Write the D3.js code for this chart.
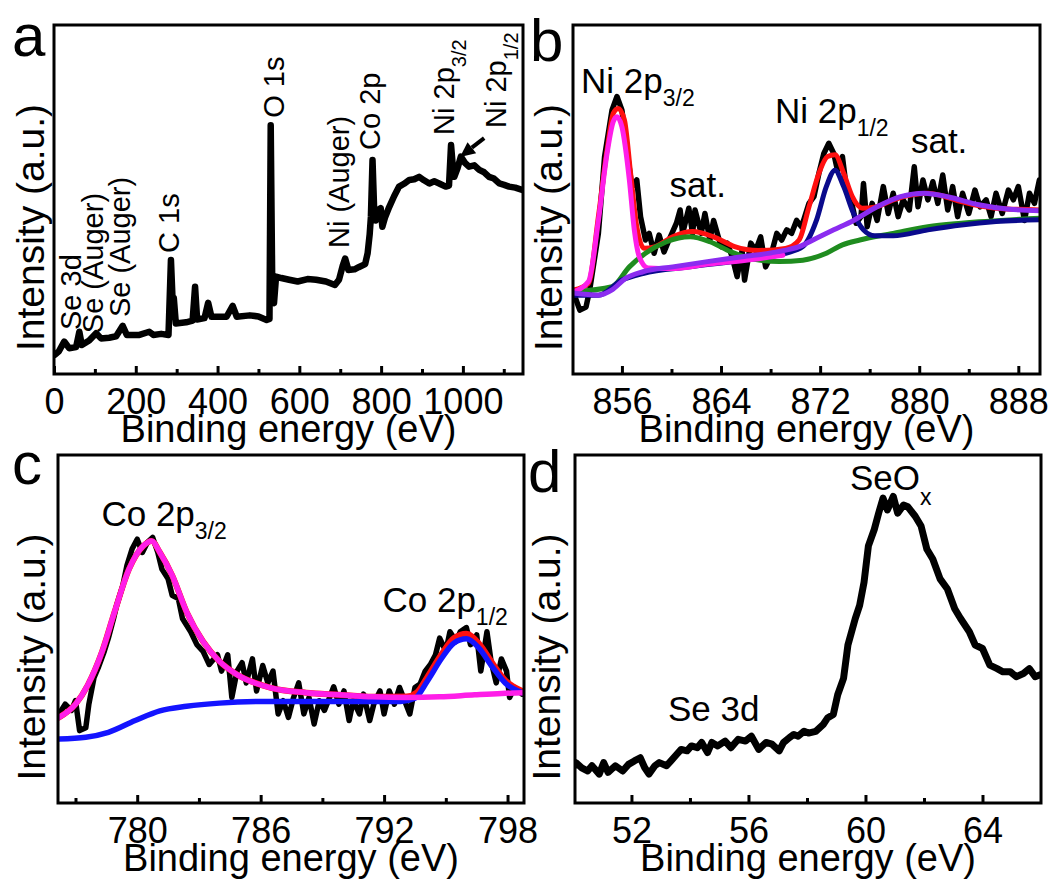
<!DOCTYPE html>
<html>
<head>
<meta charset="utf-8">
<script src="https://cdn.jsdelivr.net/npm/d3@7"></script>
<style>
  body { margin: 0; background: #fff; }
  svg { display: block; font-family: "Liberation Sans", Arial, sans-serif; }
</style>
</head>
<body>
<div id="chart"></div>
<script>
// ---- data (binding energy in eV, intensity in arbitrary units 0-100) ----

// a: survey spectrum
const surveyData = [
  [2,5.5],[12,6.5],[25,9.3],[37,7.4],[54,7.7],[62,12.1],[68,8.3],[86,9.6],[103,11.7],[115,10.2],
  [135,10.4],[152,10.8],[168,13.8],[178,11.2],[209,11.2],[233,12.1],[243,11.2],[262,11.5],[280,11.2],
  [286,32.7],[290,21.2],[293,21.8],[298,14.5],[323,14.8],[339,15.3],[345,25],[350,15.6],[368,16],
  [377,20.4],[385,16.4],[422,16.4],[437,19.5],[447,16.4],[479,16.8],[500,16.5],[520,15.5],[527,15.8],
  [530,71.3],[534,22],[538,20.3],[543,27.9],[556,27.5],[575,27],[596,26.5],[620,27.2],[641,27],
  [665,26.5],[687,25.5],[697,27],[706,31],[712,33.1],[720,29.8],[735,30],[745,30.6],[761,31.5],
  [767,34.6],[772,40],[775,45],[779,61.3],[783,47],[787,44],[793,47],[799,47.5],[803,42.2],[810,45],
  [820,47.9],[832,51],[844,53.7],[856,54.5],[869,55.6],[881,55.8],[893,56.5],[905,55.5],[918,54.6],
  [930,55.2],[942,54.6],[958,53.7],[966,54],[971,65.6],[975,60],[979,56.5],[987,59],[995,62.3],
  [1005,60.5],[1015,59.4],[1028,59.8],[1040,58.5],[1052,57.8],[1064,56.5],[1076,56],[1089,54.6],
  [1101,54.2],[1113,53.7],[1128,53.4],[1147,52.7]
];

// b: Ni 2p
const ni2pData = [
  [852.2,22.2],[852.6,18.3],[853.1,19.2],[853.4,24.1],[854.1,40.3],[854.6,62.3],[855.2,75.6],[855.6,79.5],
  [856.0,75.6],[856.4,64.2],[856.8,53.7],[857.2,55.6],[857.5,45.1],[857.9,38.4],[858.2,40.3],[858.6,34.6],
  [859.0,39.8],[859.4,35],[859.8,38.4],[860.4,43.2],[860.7,47],[860.9,40.3],[861.4,47.5],[861.7,40.3],
  [861.9,47],[862.4,40.3],[862.7,46],[863.1,38.4],[863.4,44],[864.0,36.5],[864.5,37.5],[864.9,33.6],
  [865.3,27.9],[865.7,35.4],[865.9,26.9],[866.4,37.5],[866.8,35.4],[867.2,39.3],[867.6,30.7],[868.0,33.6],
  [868.5,40.3],[868.9,38.4],[869.3,41.3],[869.7,40.3],[870.1,44],[870.5,42.2],[871.1,48.9],[871.5,50.8],
  [871.9,57.5],[872.3,63.2],[872.7,66.1],[873.1,63.2],[873.4,58.4],[873.8,62.3],[874.1,53.7],[874.5,49.9],
  [874.9,43.2],[875.3,45.1],[875.5,54.6],[875.8,42.2],[876.2,48.9],[876.6,44],[877.1,53.7],[877.5,46],
  [877.9,51.8],[878.3,45.1],[878.7,49.9],[879.2,47],[879.6,59.4],[879.9,47.9],[880.3,55.6],[880.7,49.9],
  [881.1,55.1],[881.5,48.9],[881.9,57],[882.3,47],[882.7,53.7],[883.1,45.1],[883.5,51.8],[884.0,46],
  [884.5,52.7],[884.9,47.9],[885.4,49.9],[885.8,45.1],[886.2,51.8],[886.7,46],[887.2,52.7],[887.6,49.9],
  [888.0,53.7],[888.5,44],[888.9,51.8],[889.3,48.9],[889.7,55.6]
];
const ni2pEnvelope = [
  [852.1,24.1],[853.3,26],[854.1,45.1],[854.8,64.2],[855.3,74.7],[855.7,76.1],[856.2,72.8],[856.7,57.5],
  [857.2,42.2],[857.8,36],[858.7,36.5],[860.1,39.3],[861.7,40.8],[863.4,39.3],[865.1,36.5],[867.0,35.4],
  [869.2,36],[870.3,38.4],[871.1,47.9],[871.9,57.5],[872.6,62.3],[873.2,62.8],[873.9,57.5],[874.6,50.8],
  [875.4,47.5],[876.5,47.9],[877.9,49.9],[879.3,51.3],[880.7,51.8],[882.1,50.8],[883.4,49.4],[886.2,47.5],
  [889.8,47]
];
const ni2p32Fit = [
  [852.1,23.6],[853.3,26.5],[854.1,44],[854.8,63.2],[855.3,72.3],[855.6,73.7],[856.0,70.8],[856.6,55.6],
  [857.0,41.3],[857.4,33.6],[858.1,30.4],[860.0,30.2],[863.0,31.5],[866.0,32.6],[869.0,34]
];
const ni2pSat1Fit = [
  [852.1,23.6],[855.2,25],[856.6,30.7],[857.9,34.6],[859.6,37.9],[861.5,39.3],[863.1,37.9],[864.8,35],
  [866.4,33.1],[868.7,32.2],[870.6,32.6],[872.5,34.6],[873.8,37],[875.2,38.4],[877.9,40.3],[880.7,42.2],
  [883.4,43.2],[889.8,44.6]
];
const ni2p12Fit = [
  [852.1,22.6],[854.1,22.6],[856.0,26.9],[857.7,28.8],[861.5,30.7],[865.7,32.6],[869.2,34.6],[870.6,36.5],
  [871.7,44],[872.5,53.7],[873.2,58.4],[873.9,53.7],[874.7,46],[875.5,41.3],[876.4,39.6],[877.9,39.6],
  [880.7,41.3],[883.4,42.7],[886.2,43.7],[889.8,44.2]
];
const ni2pSat2Fit = [
  [852.1,23.2],[854.1,22.6],[855.2,24.1],[856.3,27.4],[857.7,29.3],[860.1,30.7],[862.9,32.2],[865.7,33.6],
  [868.5,35],[870.3,36.5],[871.7,38.9],[873.1,41.3],[874.7,44],[876.6,47.9],[878.5,50.8],[880.4,51.8],
  [882.3,50.8],[884.8,48.5],[887.3,47.2],[889.8,46.8]
];

// c: Co 2p
const co2pData = [
  [776.2,25.6],[776.5,28.4],[776.8,26.6],[777.0,29.4],[777.2,20.8],[777.5,21.6],[777.65,28.4],[777.9,36],
  [778.1,38.8],[778.4,43.6],[778.6,47.4],[778.85,53],[779.0,56.8],[779.3,62.5],[779.5,68.2],[779.75,73],
  [780.0,75.8],[780.25,72],[780.5,74.9],[780.75,76.3],[781.0,72],[781.2,67.2],[781.5,64.4],[781.7,59.7],
  [782.0,58.7],[782.2,53],[782.6,49.2],[782.9,45.5],[783.2,43.6],[783.5,39.8],[783.9,42.6],[784.1,37.9],
  [784.4,42.6],[784.6,30.3],[784.85,37.9],[785.1,40.3],[785.3,34.5],[785.6,41.4],[785.8,32.2],[786.1,39.5],
  [786.35,34.5],[786.6,37.9],[786.85,25.6],[787.1,29.4],[787.35,24.6],[787.6,30.3],[787.85,34.5],[788.1,25.6],
  [788.35,30.3],[788.6,22.7],[788.85,29.4],[789.1,26.6],[789.35,30.3],[789.55,33.4],[789.8,28.4],[790.05,32.2],
  [790.3,23.7],[790.5,29.4],[790.8,25.6],[791.0,31.3],[791.3,23.7],[791.5,28.4],[791.8,32.2],[792.0,25.6],
  [792.25,32.2],[792.5,28.4],[792.75,33.2],[793.0,29.4],[793.25,25.6],[793.5,33.2],[793.75,34.2],[794.0,37.9],
  [794.25,39.8],[794.5,42.6],[794.7,47.4],[795.0,43.6],[795.2,49.2],[795.5,46.4],[795.7,49.2],[796.0,50.4],
  [796.2,45.5],[796.5,48.3],[796.7,37.9],[797.0,49.2],[797.2,40.7],[797.45,34.5],[797.7,41.4],[797.95,37.9],
  [798.1,30.3],[798.35,33.2],[798.7,31.3]
];
const co2pEnvelope = [
  [776.2,24.6],[777.0,28.4],[777.6,33.9],[778.3,43.6],[778.9,54.9],[779.6,67.2],[780.3,73.9],[780.7,75.3],
  [781.1,72],[781.7,65.4],[782.4,54.9],[783.2,46.4],[784.0,40.7],[784.85,36.9],[786.5,33.1],[788.2,31.7],
  [789.8,31.1],[791.45,30.5],[793.1,30.6],[793.6,31.8],[794.1,36.2],[794.8,42.8],[795.4,47.4],[796.0,48.6],
  [796.6,45.9],[797.25,40.3],[797.9,35.2],[798.8,32]
];
const co2p32Fit = [
  [776.2,24.6],[777.0,28.4],[777.6,33.9],[778.3,43.6],[778.9,54.9],[779.6,67.2],[780.3,73.9],[780.7,75.3],
  [781.1,72],[781.7,65.4],[782.4,54.9],[783.2,46.4],[784.0,40.7],[784.85,36.9],[786.5,33.1],[788.2,31.7],
  [789.8,31.1],[791.45,30.5],[793.1,30.3],[794.7,30.5],[796.4,31.1],[797.7,31.5],[798.8,31.7]
];
const co2p12Fit = [
  [776.2,18.4],[777.5,18.9],[778.6,20.3],[779.9,23.7],[781.1,26.5],[782.4,27.8],[784.0,28.7],[786.5,29.2],
  [789.8,29.2],[792.8,29.2],[793.5,30.1],[794.1,35],[794.8,41.6],[795.4,46],[796.0,47.2],[796.6,44.6],
  [797.25,39.2],[797.9,34.4],[798.8,31.5]
];

// d: Se 3d
const se3dData = [
  [50.0,10.2],[50.1,11.6],[50.3,10.1],[50.5,9.2],[50.65,10.7],[50.9,8.3],[51.05,11.6],[51.2,8.8],[51.45,10.7],
  [51.7,9.2],[51.9,11.1],[52.1,12.1],[52.3,13],[52.45,10.2],[52.6,8.3],[52.8,10.7],[52.95,11.6],[53.2,10.7],
  [53.35,12.1],[53.55,14],[53.7,15.4],[53.9,15],[54.05,16.4],[54.25,15.9],[54.4,17.4],[54.6,14.5],[54.75,17.4],
  [54.95,16.4],[55.2,17.8],[55.4,15.9],[55.65,18.3],[55.9,17.8],[56.1,19.2],[56.35,15.4],[56.6,17.4],[56.8,16.9],
  [57.05,15],[57.2,17.4],[57.4,18.8],[57.55,19.7],[57.7,19.2],[57.9,20.6],[58.05,20.1],[58.3,20.6],[58.55,22.5],
  [58.7,24.4],[58.9,25.4],[59.05,31.1],[59.25,35.8],[59.4,45.4],[59.65,53],[59.8,56.8],[59.95,63.4],[60.1,73.9],
  [60.3,78.6],[60.45,83.3],[60.6,87.6],[60.75,84.2],[60.95,88.1],[61.1,83.3],[61.3,85.6],[61.45,85.1],[61.7,82.4],
  [61.9,79.6],[62.1,72.9],[62.3,70.1],[62.55,64.4],[62.8,61.5],[63.05,55.8],[63.25,53],[63.55,49.2],[63.75,45.4],
  [64.0,44.4],[64.25,39.6],[64.5,38.6],[64.7,37.7],[64.95,37.7],[65.15,36.3],[65.4,37.2],[65.6,38.6],[65.8,36.3],
  [65.95,36.8]
];

// ticks
const surveyTicks = [0, 200, 400, 600, 800, 1000];
const surveyMinor = [100, 300, 500, 700, 900, 1100];
const ni2pTicks = [856, 864, 872, 880, 888];
const ni2pMinor = [860, 868, 876, 884];
const co2pTicks = [780, 786, 792, 798];
const co2pMinor = [777, 783, 789, 795];
const se3dTicks = [52, 56, 60, 64];
const se3dMinor = [54, 58, 62];

// peak labels: energy / intensity of the text anchor
const surveyLabels = [
  {E: 65, v: 12.6, main: "Se 3d"},
  {E: 121, v: 11.7, main: "Se (Auger)"},
  {E: 186, v: 16.3, main: "Se (Auger)"},
  {E: 306, v: 34.7, main: "C 1s"},
  {E: 562, v: 73.4, main: "O 1s"},
  {E: 721, v: 36.1, main: "Ni (Auger)"},
  {E: 797, v: 64.2, main: "Co 2p"},
  {E: 978, v: 68.5, main: "Ni 2p", sub: "3/2"},
  {E: 1105, v: 70.5, main: "Ni 2p", sub: "1/2"}
];
const ni2pLabels = [
  {E: 852.7, v: 80.5, main: "Ni 2p", sub: "3/2"},
  {E: 859.85, v: 50.7, main: "sat."},
  {E: 868.35, v: 71.9, main: "Ni 2p", sub: "1/2"},
  {E: 879.33, v: 63.3, main: "sat."}
];
const co2pLabels = [
  {E: 778.26, v: 79.6, main: "Co 2p", sub: "3/2"},
  {E: 791.92, v: 54.9, main: "Co 2p", sub: "1/2"}
];
const se3dLabels = [
  {E: 59.47, v: 90.0, main: "SeO", sub: "x"},
  {E: 53.25, v: 23.5, main: "Se 3d"}
];

//==============================================================================

const svg = d3.select("#chart").append("svg")
    .attr("width", 1053)
    .attr("height", 883);

function drawPanel(p) {
  const g = svg.append("g");
  const x = d3.scaleLinear().domain(p.xDomain).range([p.left, p.right]);
  const y = d3.scaleLinear().domain([0, 100]).range([p.bottom, p.top]);

  g.append("clipPath").attr("id", "clip-" + p.letter)
    .append("rect")
      .attr("x", p.left).attr("y", p.top)
      .attr("width", p.right - p.left).attr("height", p.bottom - p.top);

  const plot = g.append("g").attr("clip-path", `url(#clip-${p.letter})`);
  const line = d3.line().x(d => x(d[0])).y(d => y(d[1]));

  p.series.forEach(s => {
    plot.append("path")
      .datum(s.data)
      .attr("fill", "none")
      .attr("stroke", s.color)
      .attr("stroke-width", s.width)
      .attr("stroke-linejoin", "round")
      .attr("stroke-linecap", "round")
      .attr("d", line.curve(s.smooth ? d3.curveMonotoneX : d3.curveLinear));
  });

  // minor ticks, then labelled ticks (both pointing inwards)
  g.append("g")
      .attr("transform", `translate(0,${p.bottom})`)
      .call(d3.axisBottom(x).tickValues(p.minor).tickSize(-5).tickFormat(""))
      .call(a => a.select(".domain").remove())
      .call(a => a.selectAll("line").attr("stroke", "#000").attr("stroke-width", 3));

  g.append("g")
      .attr("transform", `translate(0,${p.bottom})`)
      .call(d3.axisBottom(x).tickValues(p.major).tickSize(-8).tickPadding(14).tickFormat(d3.format("d")))
      .call(a => a.select(".domain").remove())
      .call(a => a.selectAll("line").attr("stroke", "#000").attr("stroke-width", 3))
      .call(a => a.selectAll("text")
          .attr("fill", "#000")
          .attr("font-size", 36)
          .attr("font-family", "Liberation Sans, Arial, sans-serif"));

  g.append("rect")
      .attr("x", p.left).attr("y", p.top)
      .attr("width", p.right - p.left).attr("height", p.bottom - p.top)
      .attr("fill", "none")
      .attr("stroke", "#000")
      .attr("stroke-width", 3);

  g.append("text")
      .attr("x", (p.left + p.right) / 2)
      .attr("y", p.bottom + 68)
      .attr("text-anchor", "middle")
      .attr("font-size", 38)
      .text("Binding energy (eV)");

  g.append("text")
      .attr("transform", `translate(${p.yTitleX},${(p.top + p.bottom) / 2 + 28}) rotate(-90)`)
      .attr("text-anchor", "middle")
      .attr("font-size", 39)
      .text("Intensity (a.u.)");

  g.append("text")
      .attr("x", p.letterX)
      .attr("y", p.letterY)
      .attr("font-size", 60)
      .text(p.letter);

  p.labels.forEach(l => {
    const t = g.append("text")
        .attr("transform", `translate(${x(l.E)},${y(l.v)})` + (p.rotateLabels ? " rotate(-90)" : ""))
        .attr("font-size", p.labelSize);
    t.append("tspan").text(l.main);
    if (l.sub) {
      t.append("tspan")
        .attr("font-size", p.subSize)
        .attr("dy", p.subShift)
        .text(l.sub);
    }
  });

  return {x, y, g};
}

//==============================================================================

const red = "#ff1010", magenta = "#ff1ee8", green = "#1f8c1f",
      navy = "#0a0a8c", violet = "#8b2cf0", blue = "#1414ff";

const panelA = drawPanel({
  letter: "a", letterX: 12, letterY: 56,
  left: 54, right: 523, top: 25, bottom: 374,
  xDomain: [0, 1147], major: surveyTicks, minor: surveyMinor,
  yTitleX: 44,
  series: [{data: surveyData, color: "#000", width: 6.5}],
  labels: surveyLabels, rotateLabels: true, labelSize: 29, subSize: 20, subShift: 12
});

// arrow pointing at Ni 2p1/2
{
  const {x, y, g} = panelA;
  const x0 = x(1052), y0 = y(67.6), x1 = x(993), y1 = y(62.2);
  const ang = Math.atan2(y1 - y0, x1 - x0);
  const len = 15, half = 7;
  const bx = x1 - len * Math.cos(ang), by = y1 - len * Math.sin(ang);
  g.append("line")
      .attr("x1", x0).attr("y1", y0).attr("x2", bx).attr("y2", by)
      .attr("stroke", "#000").attr("stroke-width", 4);
  g.append("path")
      .attr("d", `M${x1},${y1}L${bx - half * Math.sin(ang)},${by + half * Math.cos(ang)}L${bx + half * Math.sin(ang)},${by - half * Math.cos(ang)}Z`)
      .attr("fill", "#000");
}

drawPanel({
  letter: "b", letterX: 530, letterY: 61,
  left: 573, right: 1040, top: 25, bottom: 374,
  xDomain: [852.05, 889.75], major: ni2pTicks, minor: ni2pMinor,
  yTitleX: 562,
  series: [
    {data: ni2pData, color: "#000", width: 5.5},
    {data: ni2pEnvelope, color: red, width: 5, smooth: true},
    {data: ni2pSat1Fit, color: green, width: 5, smooth: true},
    {data: ni2p12Fit, color: navy, width: 5, smooth: true},
    {data: ni2p32Fit, color: magenta, width: 5, smooth: true},
    {data: ni2pSat2Fit, color: violet, width: 5, smooth: true}
  ],
  labels: ni2pLabels, labelSize: 35, subSize: 23, subShift: 13
});

drawPanel({
  letter: "c", letterX: 12, letterY: 484,
  left: 58, right: 524, top: 455, bottom: 803,
  xDomain: [776.15, 798.8], major: co2pTicks, minor: co2pMinor,
  yTitleX: 45,
  series: [
    {data: co2pData, color: "#000", width: 5.5},
    {data: co2pEnvelope, color: red, width: 6, smooth: true},
    {data: co2p12Fit, color: blue, width: 5.5, smooth: true},
    {data: co2p32Fit, color: magenta, width: 5.5, smooth: true}
  ],
  labels: co2pLabels, labelSize: 35, subSize: 23, subShift: 13
});

drawPanel({
  letter: "d", letterX: 528, letterY: 492,
  left: 575, right: 1041, top: 455, bottom: 803,
  xDomain: [50.07, 66], major: se3dTicks, minor: se3dMinor,
  yTitleX: 560,
  series: [{data: se3dData, color: "#000", width: 7}],
  labels: se3dLabels, labelSize: 35, subSize: 23, subShift: 15
});
</script>
</body>
</html>
